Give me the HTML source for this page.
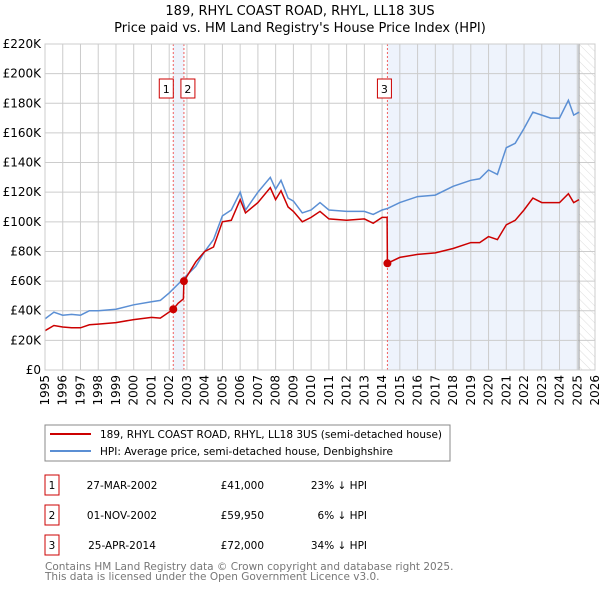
<!DOCTYPE html>
<html><head><meta charset="utf-8"><style>
body{margin:0;background:#fff;}
svg text{font-family:"DejaVu Sans","Liberation Sans",sans-serif;}
</style></head><body>
<svg id="c" width="600" height="590" viewBox="0 0 600 590" xmlns="http://www.w3.org/2000/svg">
<defs><pattern id="hatch" width="6" height="6" patternUnits="userSpaceOnUse" patternTransform="rotate(-45)"><line x1="0" y1="0" x2="0" y2="6" stroke="#ddd" stroke-width="1"/></pattern></defs>
<text x="300" y="15" text-anchor="middle" font-size="13">189, RHYL COAST ROAD, RHYL, LL18 3US</text>
<text x="300" y="32" text-anchor="middle" font-size="13">Price paid vs. HM Land Registry's House Price Index (HPI)</text>
<g id="plot"></g>
<g>
<rect x="45" y="425" width="405" height="36" fill="#fff" stroke="#888"/>
<line x1="50" y1="434" x2="91" y2="434" stroke="#cc0000" stroke-width="2"/>
<text x="100" y="438" font-size="10.5">189, RHYL COAST ROAD, RHYL, LL18 3US (semi-detached house)</text>
<line x1="50" y1="451" x2="91" y2="451" stroke="#5b8fd4" stroke-width="2"/>
<text x="100" y="455" font-size="10.5">HPI: Average price, semi-detached house, Denbighshire</text>
</g>
<g id="table" font-size="10.5"></g>
<text x="45" y="570" font-size="10.5" fill="#777">Contains HM Land Registry data © Crown copyright and database right 2025.</text>
<text x="45" y="580" font-size="10.5" fill="#777">This data is licensed under the Open Government Licence v3.0.</text>
</svg>
<script>
const hpiYears=[1995,1995.5,1996,1996.5,1997,1997.5,1998,1999,2000,2001,2001.5,2002,2002.5,2003,2003.5,2004,2004.5,2005,2005.5,2006,2006.3,2007,2007.7,2008,2008.3,2008.7,2009,2009.5,2010,2010.5,2011,2012,2013,2013.5,2014,2014.3,2015,2016,2017,2018,2019,2019.5,2020,2020.5,2021,2021.5,2022,2022.5,2023,2023.5,2024,2024.5,2024.8,2025.1];
const hpiValues=[34.5,39,37,37.5,37,40,40,41,44,46,47,52,58,64,70,80,88,104,108,120,108,120,130,122,128,116,114,106,108,113,108,107,107,105,108,109,113,117,118,124,128,129,135,132,150,153,163,174,172,170,170,182,172,174];
const priceYears=[1995,1995.5,1996,1996.5,1997,1997.5,1998,1999,2000,2001,2001.5,2002.23,2002.5,2002.8,2002.83,2003.5,2004,2004.5,2005,2005.5,2006,2006.3,2007,2007.7,2008,2008.3,2008.7,2009,2009.5,2010,2010.5,2011,2012,2013,2013.5,2014,2014.28,2014.3,2015,2016,2017,2018,2019,2019.5,2020,2020.5,2021,2021.5,2022,2022.5,2023,2023.5,2024,2024.5,2024.8,2025.1];
const priceValues=[26.5,30,29,28.5,28.5,30.5,31,32,34,35.5,35,41,45,48,59.95,73,80,83,100,101,115,106,113,123,115,121,110,107,100,103,107,102,101,102,99,103,103,72,76,78,79,82,86,86,90,88,98,101,108,116,113,113,113,119,113,115];
const saleYears=[2002.23,2002.83,2014.3];
const saleValues=[41,59.95,72];
const saleLabels=["1","2","3"];
const saleDates=["27-MAR-2002","01-NOV-2002","25-APR-2014"];
const salePrices=["£41,000","£59,950","£72,000"];
const saleDiffs=["23% ↓ HPI","6% ↓ HPI","34% ↓ HPI"];
const yTicks=[0,20,40,60,80,100,120,140,160,180,200,220];
const xTicks=[];for(let y=1995;y<=2026;y++)xTicks.push(y);
const dataEnd=2025.1;

const X0=45,X1=595,Y0=370,Y1=44;
const xs=y=>X0+(y-1995)/(2026-1995)*(X1-X0);
const ys=v=>Y0-v/220*(Y0-Y1);
const NS="http://www.w3.org/2000/svg";
const plot=document.getElementById('plot');
function mk(tag,attrs,parent){const e=document.createElementNS(NS,tag);for(const k in attrs)e.setAttribute(k,attrs[k]);(parent||plot).appendChild(e);return e;}

let e;
e=mk('rect',{x:xs(saleYears[0]),y:Y1,width:xs(saleYears[1])-xs(saleYears[0]),height:Y0-Y1,fill:'#eef3fc'});


e=mk('rect',{x:xs(saleYears[2]),y:Y1,width:xs(dataEnd)-xs(saleYears[2]),height:Y0-Y1,fill:'#eef3fc'});


e=mk('rect',{x:xs(dataEnd),y:Y1,width:X1-xs(dataEnd),height:Y0-Y1,fill:'url(#hatch)'});


yTicks.forEach(v=>{
  e=mk('line',{x1:X0,x2:X1,y1:ys(v),y2:ys(v),stroke:'#ccc'});
  
  
  e=mk('text',{x:X0-4,y:ys(v)+4,'text-anchor':'end','font-size':'12'});
  e.textContent=v===0?'£0':'£'+v+'K';
  
  
});
xTicks.forEach(y=>{
  e=mk('line',{x1:xs(y),x2:xs(y),y1:Y1,y2:Y0,stroke:'#ccc'});
  
  
  e=mk('text',{transform:`translate(${xs(y)+4},${Y0+5}) rotate(-90)`,'text-anchor':'end','font-size':'12'});
  e.textContent=y;
  
  
});
e=mk('line',{x1:xs(dataEnd),x2:xs(dataEnd),y1:Y1,y2:Y0,stroke:'#999'});


saleYears.forEach((y,i)=>{
  e=mk('line',{x1:xs(y),x2:xs(y),y1:Y1,y2:Y0,stroke:'#f06060','stroke-dasharray':'2,2'});
  
  
});
function pts(xa,va){return xa.map((y,i)=>xs(y).toFixed(1)+','+ys(va[i]).toFixed(1)).join(' ');}
e=mk('polyline',{points:pts(hpiYears,hpiValues),fill:'none',stroke:'#5b8fd4','stroke-width':'1.5'});


e=mk('polyline',{points:pts(priceYears,priceValues),fill:'none',stroke:'#cc0000','stroke-width':'1.5'});


saleYears.forEach((y,i)=>{
  e=mk('circle',{cx:xs(y),cy:ys(saleValues[i]),r:4,fill:'#cc0000'});
  
  
  const bx=i===0?xs(y)-14:(i===1?xs(y)-3:xs(y)-10);
  e=mk('rect',{x:bx,y:79,width:14,height:19,fill:'#fff',stroke:'#cc0000'});
  
  
  e=mk('text',{x:bx+7,y:93,'text-anchor':'middle','font-size':'11'});
  e.textContent=saleLabels[i];
  
  
});
mk('rect',{x:X0,y:Y1,width:X1-X0,height:Y0-Y1,fill:'none',stroke:'#ccc'});

const tb=document.getElementById('table');
saleLabels.forEach((l,i)=>{
  const cy=485+i*30;
  e=mk('rect',{x:45,y:cy-10,width:14,height:20,fill:'#fff',stroke:'#cc0000'},tb);
  
  
  e=mk('text',{x:52,y:cy+4,'text-anchor':'middle'},tb);e.textContent=l;
  
  
  e=mk('text',{x:122,y:cy+4,'text-anchor':'middle'},tb);e.textContent=saleDates[i];
  
  
  e=mk('text',{x:264,y:cy+4,'text-anchor':'end'},tb);e.textContent=salePrices[i];
  
  
  e=mk('text',{x:367,y:cy+4,'text-anchor':'end'},tb);e.textContent=saleDiffs[i];
  
  
});
</script>
</body></html>
